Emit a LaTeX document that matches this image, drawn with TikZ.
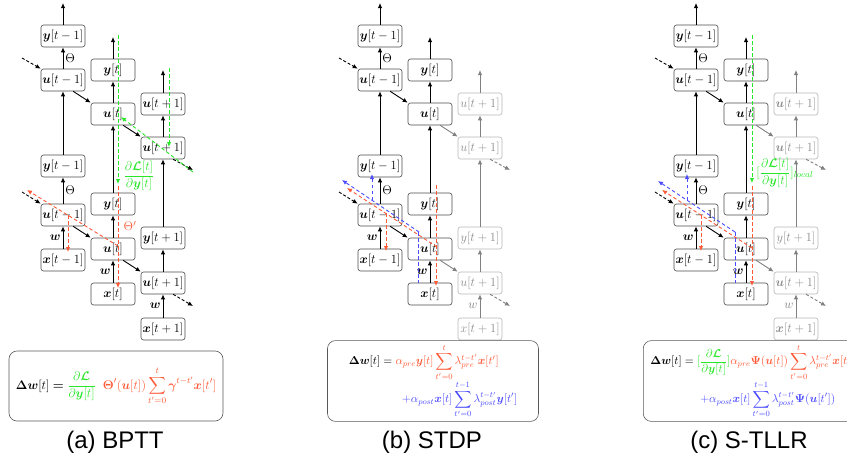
\documentclass[tikz,border=0pt]{standalone}
\usepackage{fix-cm}
\usepackage{amsmath}
\usepackage{bm}
\usepackage{fontspec}
\setsansfont{Liberation Sans}
\usepackage{tikz}
\usetikzlibrary{arrows.meta,calc}

\definecolor{gradgreen}{RGB}{40,230,40}
\definecolor{gradred}{RGB}{255,90,55}
\definecolor{gradblue}{RGB}{75,75,255}

\tikzset{
  blk/.style={draw=black!70, line width=0.6pt, fill=white, rounded corners=2.5pt, minimum width=44pt, minimum height=22pt, inner sep=0pt, font=\fontsize{12.5}{14}\selectfont},
  gblk/.style={blk, draw=black!28, text=black!45},
  fwd/.style={-{Latex[length=5pt,width=4.5pt]}, line width=0.9pt},
  rec/.style={fwd, dash pattern=on 3pt off 2pt},
  grad/.style={-{Latex[length=5pt,width=4.5pt]}, line width=0.9pt, dash pattern=on 3.5pt off 2.5pt},
  gradnotip/.style={line width=0.9pt, dash pattern=on 3.5pt off 2.5pt},
  lab/.style={font=\fontsize{12.5}{14}\selectfont, inner sep=2pt},
  eqbox/.style={draw=black!65, line width=0.6pt, rounded corners=8pt, font=\fontsize{12.5}{15}\selectfont},
  smalleq/.style={font=\fontsize{11.5}{14}\selectfont},
  capt/.style={font=\sffamily\fontsize{24}{28}\selectfont}
}

% #1 prefix, #2 shift, #3 style of the t+1 boxes, #4 colour of the t+1 links, #5-#7 bold or not for u, y (and w), x
\newcommand{\rnnpanel}[7]{%
  \begin{scope}[xshift=#2]
    % upper layer
    \node[blk] (#1y1) at (63,36) {$\bm{y}[t-1]$};
    \node[blk] (#1u1) at (63,80) {$\bm{u}[t-1]$};
    \node[blk] (#1y2) at (113,70) {$\bm{y}[t]$};
    \node[blk] (#1u2) at (113,114) {$\bm{u}[t]$};
    \node[#3] (#1y3) at (163,104) {$#5{u}[t+1]$};
    \node[#3] (#1u3) at (163,148) {$#5{u}[t+1]$};
    % lower layer
    \node[blk] (#1ly1) at (63,166) {$\bm{y}[t-1]$};
    \node[blk] (#1lu1) at (63,215) {$\bm{u}[t-1]$};
    \node[blk] (#1lx1) at (63,260) {$\bm{x}[t-1]$};
    \node[blk] (#1ly2) at (113,204) {$\bm{y}[t]$};
    \node[blk] (#1lu2) at (113,249) {$\bm{u}[t]$};
    \node[blk] (#1lx2) at (113,294) {$\bm{x}[t]$};
    \node[#3] (#1ly3) at (163,238) {$#6{y}[t+1]$};
    \node[#3] (#1lu3) at (163,283) {$#5{u}[t+1]$};
    \node[#3] (#1lx3) at (163,329) {$#7{x}[t+1]$};
    % loose ends
    \coordinate (#1o1) at (63,3);
    \coordinate (#1o2) at (113,37);
    \coordinate (#1o3) at (163,70);
    \coordinate (#1in1) at (22,58);
    \coordinate (#1in2) at (22,192);
    \coordinate (#1out1) at (193,170);
    \coordinate (#1out2) at (193,306);
    % forward
    \draw[fwd] (#1y1) -- (#1o1);
    \draw[fwd] (#1u1) -- node[lab,right]{$\Theta$} (#1y1);
    \draw[fwd] (#1y2) -- (#1o2);
    \draw[fwd] (#1u2) -- (#1y2);
    \draw[fwd] (#1ly1) -- (#1u1);
    \draw[fwd] (#1ly2) -- (#1u2);
    \draw[fwd] (#1lu1) -- node[lab,right]{$\Theta$} (#1ly1);
    \draw[fwd] (#1lx1) -- node[lab,left]{$\bm{w}$} (#1lu1);
    \draw[fwd] (#1lu2) -- (#1ly2);
    \draw[fwd] (#1lx2) -- node[lab,left]{$\bm{w}$} (#1lu2);
    % recurrence
    \draw[rec] (#1in1) -- (#1u1.north west);
    \draw[rec] (#1in2) -- (#1lu1.north west);
    \draw[fwd] (#1u1.-48) -- (#1u2.north west);
    \draw[fwd] (#1lu1.-48) -- (#1lu2.north west);
    \begin{scope}[color=#4]
      \draw[fwd] (#1y3) -- (#1o3);
      \draw[fwd] (#1u3) -- (#1y3);
      \draw[fwd] (#1ly3) -- (#1u3);
      \draw[fwd] (#1lu3) -- (#1ly3);
      \draw[fwd] (#1lx3) -- node[lab,left]{$#6{w}$} (#1lu3);
      \draw[fwd] (#1u2.-48) -- (#1u3.north west);
      \draw[fwd] (#1lu2.-48) -- (#1lu3.north west);
      \draw[rec] (#1u3.-48) -- (#1out1);
      \draw[rec] (#1lu3.-48) -- (#1out2);
    \end{scope}
  \end{scope}}

\begin{document}
\begin{tikzpicture}[x=1pt,y=-1pt]
  %%%%% START %%%%%
  \useasboundingbox (0,0) rectangle (847,464);

  \rnnpanel{a}{0}{blk}{black}{\bm}{\bm}{\bm}
  \rnnpanel{b}{317}{gblk}{black!50}{}{}{}
  \rnnpanel{c}{633}{gblk}{black!50}{\bm}{}{\bm}

  % (a) BPTT
  \draw[grad,gradgreen] (118,35) -- (118,184);
  \draw[grad,gradgreen] (169,68) -- (169,147);
  \draw[grad,gradgreen] (193,172) -- (121,117);
  \node[lab,gradgreen] (agl) at (139,176) {$\dfrac{\partial\bm{\mathcal{L}}[t]}{\partial\bm{y}[t]}$};
  \draw[grad,gradred] (118,186) -- (118,288);
  \draw[grad,gradred] (118,246) -- (27,190);
  \draw[grad,gradred] (68,215) -- (68,252);
  \node[lab,gradred] (arl) at (130,226) {$\Theta'$};

  % (b) STDP
  \begin{scope}[xshift=317]
    \draw[grad,gradblue] (55,200) -- (55,174);
    \draw[grad,gradblue] (102,232) -- (25,180);
    \draw[gradnotip,gradblue] (101,232) -- (101,283);
    \draw[grad,gradred] (119,185) -- (119,286);
    \draw[grad,gradred] (120,247) -- (30,188);
    \draw[grad,gradred] (69,213) -- (69,251);
  \end{scope}

  % (c) S-TLLR
  \begin{scope}[xshift=633]
    \draw[grad,gradgreen] (119,35) -- (119,183);
    \node[lab,gradgreen] (cgl) at (152,173) {$[\dfrac{\partial\bm{\mathcal{L}}[t]}{\partial\bm{y}[t]}]_{local}$};
    \draw[grad,gradblue] (54,200) -- (54,174);
    \draw[grad,gradblue] (102,232) -- (25,181);
    \draw[gradnotip,gradblue] (102,232) -- (102,283);
    \draw[grad,gradred] (119,186) -- (119,286);
    \draw[grad,gradred] (119,248) -- (29,190);
    \draw[grad,gradred] (68,215) -- (68,251);
  \end{scope}

  % update rules
  \node[eqbox, minimum width=214pt, minimum height=70pt] (aeq) at (116,386) {$\bm{\Delta}\bm{w}[t] \mathrel{\bm{=}} \textcolor{gradgreen}{\dfrac{\partial\bm{\mathcal{L}}}{\partial\bm{y}[t]}}\;\;\textcolor{gradred}{\bm{\Theta}'(\bm{u}[t])\displaystyle\sum_{t'=0}^{t}\bm{\gamma}^{t-t'}\bm{x}[t']}$};
  \node[eqbox, smalleq, minimum width=211pt, minimum height=71pt] (beq) at (433,381) {$\begin{aligned}\bm{\Delta w}[t] ={}& \textcolor{gradred}{\alpha_{pre}\bm{y}[t]\sum_{t'=0}^{t}\lambda_{pre}^{t-t'}\bm{x}[t']}\\[-3pt] & \textcolor{gradblue}{\;\;+\alpha_{post}\bm{x}[t]\sum_{t'=0}^{t-1}\lambda_{post}^{t-t'}\bm{y}[t']}\end{aligned}$};
  \node[eqbox, smalleq, minimum height=70pt, inner xsep=7pt, anchor=west] (ceq) at (643,381) {$\begin{aligned}\bm{\Delta w}[t] ={}& \textcolor{gradgreen}{[\dfrac{\partial\bm{\mathcal{L}}}{\partial\bm{y}[t]}]}\textcolor{gradred}{\alpha_{pre}\bm{\Psi}(\bm{u}[t])\sum_{t'=0}^{t}\lambda_{pre}^{t-t'}\bm{x}[t']}\\[-3pt] & \textcolor{gradblue}{\;+\alpha_{post}\bm{x}[t]\sum_{t'=0}^{t-1}\lambda_{post}^{t-t'}\bm{\Psi}(\bm{u}[t'])}\end{aligned}$};

  % captions
  \node[capt] (acap) at (115,442) {(a) BPTT};
  \node[capt] (bcap) at (432,442) {(b) STDP};
  \node[capt] (ccap) at (749,442) {(c) S-TLLR};
  %%%%% END %%%%%
\end{tikzpicture}
\end{document}
